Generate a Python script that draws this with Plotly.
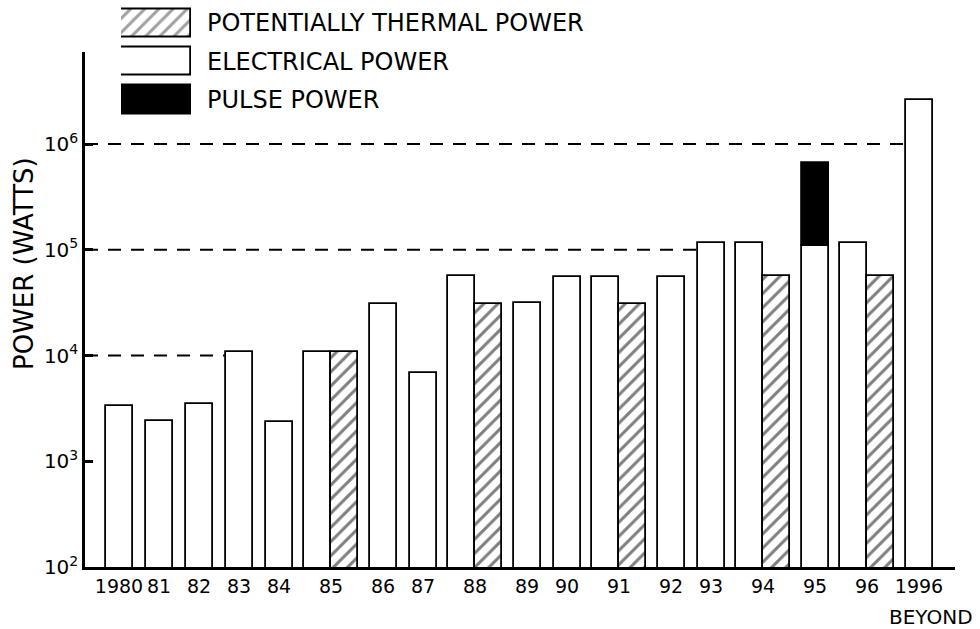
import numpy as np
import plotly.graph_objects as go

# ---------------- data ----------------
years = ["1980", "81", "82", "83", "84", "85", "86", "87", "88", "89",
         "90", "91", "92", "93", "94", "95", "96", "1996"]
electrical = [3300, 2400, 3500, 10700, 2350, 10700, 31000, 6900, 57000, 31500,
              55000, 55000, 55000, 115000, 115000, 108000, 115000, 2600000]
thermal = [None, None, None, None, None, 10700, None, None, 31000, None,
           None, 31000, None, None, 56000, None, 56000, None]
pulse = [None, None, None, None, None, None, None, None, None, None,
         None, None, None, None, None, 665000, None, None]
legend_labels = ["POTENTIALLY THERMAL POWER", "ELECTRICAL POWER", "PULSE POWER"]
decade_vals = [1e2, 1e3, 1e4, 1e5, 1e6]
decade_text = ["10<sup>2</sup>", "10<sup>3</sup>", "10<sup>4</sup>",
               "10<sup>5</sup>", "10<sup>6</sup>"]
dashed_decades = [1e4, 1e5, 1e6]

# ---------------- layout helpers (styles) ----------------
SLOT_SINGLE = 1.0
SLOT_PAIR = 1.6
BAR_W = 0.675
FONT = "DejaVu Sans"

has_pair = np.array([t is not None for t in thermal])
slots = np.where(has_pair, SLOT_PAIR, SLOT_SINGLE)
centers = np.cumsum(slots) - slots / 2
elec_off = np.where(has_pair, -BAR_W, -BAR_W / 2)
x_lo = centers[0] - 0.85
x_hi = centers[-1] + 0.9

pattern = dict(shape="/", size=10, solidity=0.3, fgcolor="black", bgcolor="white")
outline = dict(color="black", width=1.8)

fig = go.Figure()

# dashed reference lines, from the axis to the first bar reaching the level
tops = [max(v for v in (e, t, p) if v is not None) for e, t, p in zip(electrical, thermal, pulse)]
for d in dashed_decades:
    i = next(k for k, v in enumerate(tops) if v >= d * 0.95)
    fig.add_trace(go.Scatter(
        x=[x_lo, centers[i] + elec_off[i]], y=[d, d], mode="lines",
        line=dict(color="black", width=2, dash="13px,10px"),
        showlegend=False, hoverinfo="skip"))

fig.add_trace(go.Bar(
    x=centers, y=electrical, width=BAR_W, offset=elec_off,
    marker=dict(color="white", line=outline), showlegend=False))
fig.add_trace(go.Bar(
    x=centers, y=thermal, width=BAR_W, offset=0,
    marker=dict(color="white", line=outline, pattern=pattern), showlegend=False))
pulse_len = [p - e if p is not None else None for p, e in zip(pulse, electrical)]
fig.add_trace(go.Bar(
    x=centers, y=pulse_len, base=electrical, width=BAR_W, offset=elec_off,
    marker=dict(color="black", line=outline), showlegend=False))

# legend swatches drawn as a small horizontal bar chart
fig.add_trace(go.Bar(
    y=legend_labels, x=[1, 1, 1], orientation="h", width=0.74,
    xaxis="x2", yaxis="y2",
    marker=dict(color=["white", "white", "black"], line=outline,
                pattern=dict(shape=["/", "", ""], size=10, solidity=0.3,
                             fgcolor="black", bgcolor="white")),
    showlegend=False))

annotations = []
for lab in legend_labels:
    annotations.append(dict(
        x=1, xref="x2 domain", y=lab, yref="y2", text=lab, showarrow=False,
        xanchor="left", xshift=14, font=dict(family=FONT, size=24, color="black")))

annotations.append(dict(
    x=centers[-1], xref="x", y=0, yref="paper", yshift=-50, xshift=12,
    text="BEYOND", showarrow=False, yanchor="middle", xanchor="center",
    font=dict(family=FONT, size=20, color="black")))
annotations.append(dict(
    x=-61 / 870, xref="paper", y=(567 - 264) / 567, yref="paper",
    text="POWER (WATTS)", textangle=-90, showarrow=False,
    xanchor="center", yanchor="middle",
    font=dict(family=FONT, size=26, color="black")))

fig.update_layout(
    width=980, height=629,
    margin=dict(l=85, r=25, t=0, b=62),
    paper_bgcolor="white", plot_bgcolor="white",
    barmode="overlay", bargap=0,
    font=dict(family=FONT, color="black"),
    annotations=annotations,
    xaxis=dict(range=[x_lo, x_hi], tickvals=centers, ticktext=years,
               showgrid=False, zeroline=False, showline=True,
               linecolor="black", linewidth=2.5, ticks="",
               tickfont=dict(family=FONT, size=19, color="black")),
    yaxis=dict(type="log", range=[2, 2 + 515 / 105.75], domain=[0, 515 / 567],
               tickvals=decade_vals, ticktext=decade_text,
               showgrid=False, zeroline=False, showline=True,
               linecolor="black", linewidth=2.5,
               ticks="inside", ticklen=8, tickwidth=3, tickcolor="black",
               tickfont=dict(family=FONT, size=20, color="black")),
    xaxis2=dict(domain=[(121 - 85) / 870, (191 - 85) / 870], range=[0, 1],
                anchor="y2", visible=False, fixedrange=True),
    yaxis2=dict(domain=[(567 - 119) / 567, (567 - 4.4) / 567], range=[2.5, -0.5],
                anchor="x2", visible=False, fixedrange=True),
)

fig.write_html("out.html", config={"displayModeBar": False},
               post_script="document.body.style.margin='0';document.body.style.padding='0';")
